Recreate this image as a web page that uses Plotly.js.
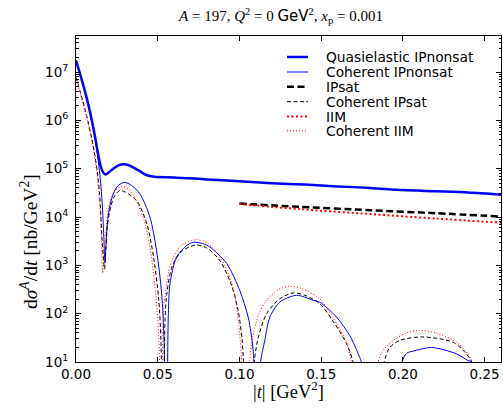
<!DOCTYPE html>
<html>
<head>
<meta charset="utf-8">
<script src="https://cdn.plot.ly/plotly-3.0.1.min.js"></script>
<style>html,body{margin:0;padding:0;background:#fff;}#chart{width:503px;height:409px;}</style>
</head>
<body>
<div id="chart"></div>
<script>
// ---- data ----
const seriesNames = ["Quasielastic IPnonsat", "Coherent IPnonsat", "IPsat", "Coherent IPsat", "IIM", "Coherent IIM"];
const yTickVals = [1e1, 1e2, 1e3, 1e4, 1e5, 1e6, 1e7];
const yTickText = ["10<sup>1</sup>", "10<sup>2</sup>", "10<sup>3</sup>", "10<sup>4</sup>", "10<sup>5</sup>", "10<sup>6</sup>", "10<sup>7</sup>"];

// Quasielastic IPnonsat
const tQE = [0, 0.003, 0.0065, 0.0095, 0.0116, 0.013, 0.015, 0.0165, 0.018, 0.0195, 0.022, 0.026, 0.029, 0.033, 0.038, 0.043, 0.048, 0.06, 0.08, 0.1, 0.12, 0.14, 0.16, 0.18, 0.2, 0.22, 0.24, 0.26];
const qeIPnonsat = [1.74e7, 7.9e6, 2.95e6, 1.07e6, 4.7e5, 2.5e5, 1.15e5, 8.5e4, 7.6e4, 8.1e4, 9.5e4, 1.17e5, 1.23e5, 1.15e5, 9.3e4, 7.4e4, 6.8e4, 6.6e4, 6.0e4, 5.5e4, 5.0e4, 4.7e4, 4.3e4, 4.0e4, 3.6e4, 3.4e4, 3.2e4, 2.9e4];

// Coherent IPnonsat
const tCohNon = [0, 0.003, 0.0065, 0.0095, 0.0116, 0.013, 0.015, 0.016, 0.017, 0.0177, 0.0185, 0.019, 0.020, 0.022, 0.025, 0.0295, 0.034, 0.0391, 0.0452, 0.0493, 0.0524, 0.0538, 0.0553, 0.0565, 0.0575, 0.0615, 0.0677, 0.0717, 0.0775, 0.0819, 0.0921, 0.1002, 0.1053, 0.1084, 0.111, 0.1129, 0.1155, 0.1186, 0.1247, 0.135, 0.145, 0.149, 0.1594, 0.1675, 0.1726, 0.1746, 0.187, 0.1995, 0.2021, 0.2082, 0.2174, 0.2327, 0.2398, 0.242, 0.25, 0.26];
const cohIPnonsat = [1.66e7, 7.6e6, 2.8e6, 1.0e6, 4.3e5, 2.1e5, 5.6e4, 2.0e4, 4.0e3, 1.15e3, 3.2e3, 6.3e3, 1.26e4, 2.5e4, 4.2e4, 5.2e4, 4.5e4, 3.0e4, 1.0e4, 2.0e3, 257, 33, 0.1, 100, 417, 1480, 2570, 3000, 2820, 2400, 1100, 300, 85, 17, 0.1, 10, 28, 85, 174, 240, 190, 174, 85, 35, 15, 10, 0.1, 10, 15, 17.4, 20, 14.8, 10.7, 10, 0.1, 0.1];

// Coherent IPsat
const tCohSat = [0, 0.003, 0.0065, 0.0095, 0.011, 0.013, 0.0145, 0.016, 0.0175, 0.018, 0.019, 0.0205, 0.023, 0.0265, 0.030, 0.0373, 0.0434, 0.0475, 0.0506, 0.052, 0.053, 0.0545, 0.0555, 0.059, 0.065, 0.0733, 0.080, 0.088, 0.095, 0.099, 0.1015, 0.1023, 0.1055, 0.109, 0.1115, 0.1166, 0.1247, 0.133, 0.14, 0.149, 0.157, 0.1655, 0.1695, 0.179, 0.1885, 0.192, 0.198, 0.212, 0.2306, 0.238, 0.242, 0.25, 0.26];
const cohIPsat = [7.9e6, 3.5e6, 1.26e6, 4.5e5, 2.4e5, 8.9e4, 2.8e4, 3.2e3, 830, 1.6e3, 5.6e3, 1.26e4, 2.5e4, 3.5e4, 3.3e4, 2.14e4, 7.1e3, 1.45e3, 200, 25, 0.1, 79, 251, 1000, 1995, 2630, 2290, 1260, 398, 126, 32, 12.6, 0.1, 10, 32, 100, 204, 269, 240, 162, 72, 24, 10, 0.1, 10, 20, 28, 33, 25.7, 15.8, 10, 0.1, 0.1];

// Coherent IIM
const tCohIIM = [0, 0.003, 0.0065, 0.0095, 0.011, 0.013, 0.0145, 0.0155, 0.0163, 0.0172, 0.0185, 0.020, 0.023, 0.028, 0.032, 0.036, 0.042, 0.046, 0.049, 0.0508, 0.052, 0.0535, 0.055, 0.058, 0.064, 0.0733, 0.080, 0.087, 0.093, 0.097, 0.0995, 0.1012, 0.1035, 0.1062, 0.108, 0.112, 0.117, 0.124, 0.131, 0.138, 0.149, 0.157, 0.1655, 0.1685, 0.177, 0.1848, 0.188, 0.194, 0.202, 0.210, 0.22, 0.2327, 0.239, 0.2425, 0.25, 0.26];
const cohIIM = [7.1e6, 3.2e6, 1.12e6, 4.0e5, 2.1e5, 7.1e4, 2.0e4, 4.0e3, 690, 2.0e3, 6.3e3, 1.6e4, 3.2e4, 4.3e4, 3.8e4, 2.45e4, 7.9e3, 1.6e3, 200, 25, 0.1, 100, 316, 1122, 2512, 3388, 2951, 1660, 708, 251, 63, 12.6, 0.1, 10, 32, 100, 200, 316, 372, 331, 204, 85, 25.7, 10, 0.1, 10, 17.8, 28, 40, 45, 40, 25.7, 15.8, 10, 0.1, 0.1];

// Totals (IPsat, IIM), shown for |t| >= 0.1
const tTot = [0.1, 0.137, 0.18, 0.22, 0.26];
const totIPsat = [1.9e4, 1.62e4, 1.38e4, 1.2e4, 1.02e4];
const totIIM = [1.86e4, 1.45e4, 1.15e4, 9.3e3, 7.6e3];

// ---- styles ----
const styles = [
  {color: '#0000ff', width: 2.5, dash: 'solid'},
  {color: '#0000ff', width: 1, dash: 'solid'},
  {color: '#000000', width: 2.5, dash: '7px,3.5px'},
  {color: '#000000', width: 1, dash: '4px,2.5px'},
  {color: '#ff0000', width: 2, dash: '2px,2.5px'},
  {color: '#ff0000', width: 1, dash: '1px,2px'}
];

const xs = [tQE, tCohNon, tTot, tCohSat, tTot, tCohIIM];
const ys = [qeIPnonsat, cohIPnonsat, totIPsat, cohIPsat, totIIM, cohIIM];
const order = [1, 3, 5, 0, 2, 4];

const traces = order.map(i => ({
  x: xs[i], y: ys[i], mode: 'lines', name: seriesNames[i],
  line: {color: styles[i].color, width: styles[i].width, dash: styles[i].dash, shape: 'spline', smoothing: 0.8},
  showlegend: false, hoverinfo: 'skip'
}));

// ---- manual legend (tight row spacing like the reference) ----
const X0 = 76, W = 425, Y0 = 36, H = 326;
const px2x = p => (p - X0) / W;
const px2y = p => (Y0 + H - p) / H;
const rowY = [57, 72, 86.7, 101.7, 116.5, 130.8];
const shapes = [];
const annotations = [];
seriesNames.forEach((n, i) => {
  shapes.push({type: 'line', xref: 'paper', yref: 'paper', x0: px2x(287), x1: px2x(308), y0: px2y(rowY[i]), y1: px2y(rowY[i]),
    line: {color: styles[i].color, width: styles[i].width, dash: styles[i].dash}});
  annotations.push({text: n, xref: 'paper', yref: 'paper', x: px2x(324), y: px2y(rowY[i]), xanchor: 'left', yanchor: 'middle',
    showarrow: false, font: {family: 'DejaVu Sans', size: 13.8, color: '#000'}});
});

// axis titles as annotations for exact placement
annotations.push({text: 'd<i>σ</i><sup><i>A</i></sup>/d<i>t</i> [nb/GeV<sup>2</sup>]', xref: 'paper', yref: 'paper',
  x: px2x(29), y: px2y(242), textangle: -90, showarrow: false, xanchor: 'center', yanchor: 'middle',
  font: {family: 'Liberation Serif', size: 19.5, color: '#000'}});
annotations.push({text: '|<i>t</i>| [GeV<sup>2</sup>]', xref: 'paper', yref: 'paper',
  x: px2x(288), y: px2y(390), showarrow: false, xanchor: 'center', yanchor: 'middle',
  font: {family: 'Liberation Serif', size: 18.5, color: '#000'}});

const layout = {
  width: 503, height: 409,
  margin: {l: 76, r: 2, t: 36, b: 47, pad: 0},
  paper_bgcolor: '#fff', plot_bgcolor: '#fff',
  showlegend: false,
  title: {text: '<i>A</i> = 197, <i>Q</i><sup>2</sup> = 0 <span style="font-family:DejaVu Sans">GeV</span><sup>2</sup>, <i>x</i><sub>p</sub> = 0.001',
    x: 281 / 503, xanchor: 'center', y: 1 - 16 / 409, yanchor: 'middle',
    font: {family: 'Liberation Serif', size: 15, color: '#000'}},
  xaxis: {
    range: [0, 0.26], dtick: 0.05, tick0: 0, tickformat: '.2f',
    ticks: 'inside', ticklen: 5, tickwidth: 1, tickcolor: '#000',
    showline: true, linecolor: '#000', linewidth: 1, mirror: 'allticks',
    showgrid: false, zeroline: false,
    tickfont: {family: 'DejaVu Sans', size: 13.5, color: '#000'}
  },
  yaxis: {
    type: 'log', range: [1, 7.745], tickmode: 'array', tickvals: yTickVals, ticktext: yTickText,
    ticks: 'inside', ticklen: 5, tickwidth: 1, tickcolor: '#000',
    minor: {ticks: 'inside', ticklen: 2.5, tickcolor: '#000', dtick: 'D1', showgrid: false},
    showline: true, linecolor: '#000', linewidth: 1, mirror: 'allticks',
    showgrid: false, zeroline: false,
    ticklabelstandoff: 4,
    tickfont: {family: 'DejaVu Sans', size: 13.5, color: '#000'}
  },
  shapes: shapes,
  annotations: annotations
};

Plotly.newPlot('chart', traces, layout, {staticPlot: true, displayModeBar: false});
</script>
</body>
</html>
